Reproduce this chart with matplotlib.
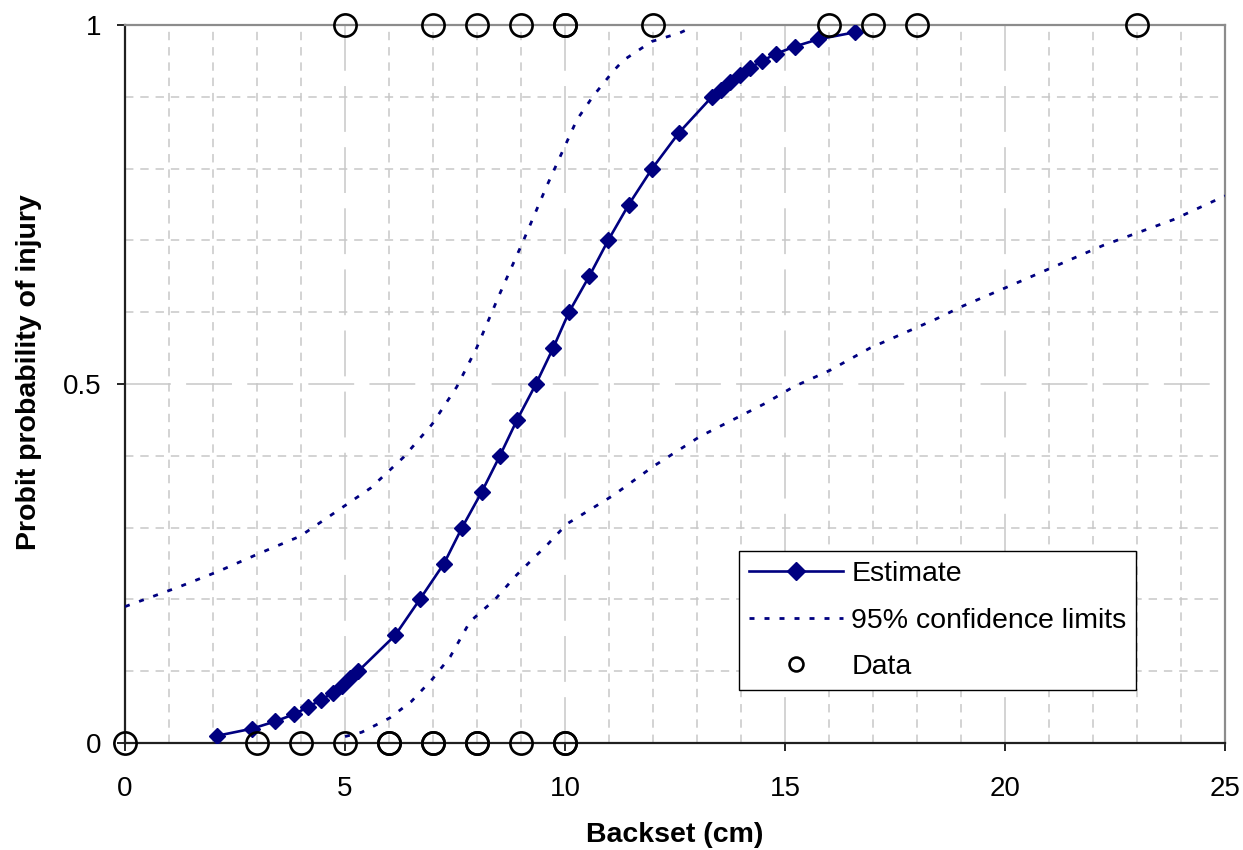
import matplotlib
matplotlib.use("Agg")
import matplotlib.pyplot as plt
from matplotlib.ticker import MultipleLocator, FixedLocator

plt.rcParams['font.family'] = ['Liberation Sans', 'DejaVu Sans']

# ---------------- data ----------------
est_x = [2.09, 2.89, 3.41, 3.84, 4.16, 4.45, 4.73, 4.93, 5.11, 5.30,
         6.14, 6.70, 7.25, 7.66, 8.11, 8.52, 8.91, 9.34, 9.73, 10.09,
         10.55, 10.98, 11.45, 11.98, 12.59, 13.34,
         13.55, 13.74, 13.98, 14.20, 14.48, 14.80, 15.22, 15.75, 16.60]
est_y = [0.01, 0.02, 0.03, 0.04, 0.05, 0.06, 0.07, 0.08, 0.09, 0.10,
         0.15, 0.20, 0.25, 0.30, 0.35, 0.40, 0.45, 0.50, 0.55, 0.60,
         0.65, 0.70, 0.75, 0.80, 0.85, 0.90,
         0.91, 0.92, 0.93, 0.94, 0.95, 0.96, 0.97, 0.98, 0.99]

ci_hi_x = [0.0, 1.21, 2.12, 3.05, 3.98, 4.77, 5.58, 6.33, 6.98, 7.54, 7.99,
           8.52, 9.05, 9.58, 10.27, 10.64, 11.10, 11.33, 11.97, 12.61, 12.75]
ci_hi_y = [0.190, 0.217, 0.239, 0.264, 0.288, 0.321, 0.355, 0.398, 0.444, 0.496, 0.550,
           0.626, 0.699, 0.775, 0.868, 0.901, 0.936, 0.951, 0.977, 0.989, 0.993]

ci_lo_x = [5.00, 5.38, 6.02, 6.51, 7.00, 7.39, 7.84, 8.41, 8.90, 9.36, 9.55, 10.04,
           10.57, 11.10, 12.00, 13.07, 14.55, 15.19, 16.02, 16.93, 18.45, 19.02,
           20.20, 21.10, 22.23, 23.83, 25.00]
ci_lo_y = [0.009, 0.015, 0.035, 0.058, 0.090, 0.120, 0.169, 0.200, 0.234, 0.262, 0.273, 0.305,
           0.325, 0.345, 0.385, 0.427, 0.473, 0.496, 0.519, 0.550, 0.591, 0.608,
           0.639, 0.663, 0.693, 0.729, 0.762]

data_x = [5, 7, 8, 9, 10, 10, 12, 16, 17, 18, 23,
          0, 3, 4, 5, 6, 6, 7, 7, 8, 8, 9, 10, 10]
data_y = [1, 1, 1, 1, 1, 1, 1, 1, 1, 1, 1,
          0, 0, 0, 0, 0, 0, 0, 0, 0, 0, 0, 0, 0]

x_ticks = [0, 5, 10, 15, 20, 25]
x_ticklabels = ['0', '5', '10', '15', '20', '25']
y_ticks = [0, 0.5, 1]
y_ticklabels = ['0', '0.5', '1']

# ---------------- figure ----------------
W, H = 1243, 850
fig = plt.figure(figsize=(W / 100, H / 100), dpi=100)
ax = fig.add_axes([125 / W, 1 - 743 / H, 1100 / W, 718 / H])

navy = '#000080'
ax.plot(est_x, est_y, color=navy, lw=1.9, marker='D', ms=8.5,
        mfc=navy, mec=navy, label='Estimate', zorder=4)
ax.plot(ci_hi_x, ci_hi_y, color=navy, lw=2.0, ls=(0, (1.8, 3.6)),
        label='95% confidence limits', zorder=3)
ax.plot(ci_lo_x, ci_lo_y, color=navy, lw=2.0, ls=(0, (1.8, 3.6)), zorder=3)
ax.plot(data_x, data_y, ls='none', marker='o', ms=16, mfc='none',
        mec='black', mew=1.9, label='Data', clip_on=False, zorder=6)

ax.set_xlim(0, 25)
ax.set_ylim(0, 1)
ax.xaxis.set_major_locator(FixedLocator(x_ticks))
ax.set_xticklabels(x_ticklabels)
ax.yaxis.set_major_locator(FixedLocator(y_ticks))
ax.set_yticklabels(y_ticklabels)
ax.xaxis.set_minor_locator(MultipleLocator(1))
ax.yaxis.set_minor_locator(MultipleLocator(0.1))

ax.grid(which='major', color='#c8c8c8', lw=1.1, ls=(0, (30, 10)))
ax.grid(which='minor', color='#c8c8c8', lw=1.1, ls=(0, (5.5, 4.5)))
ax.set_axisbelow(True)

ax.tick_params(which='minor', length=0)
ax.tick_params(axis='x', which='major', direction='out', length=6, width=1.2,
               pad=18, labelsize=20, color='black')
ax.tick_params(axis='y', which='major', direction='out', length=6, width=1.2,
               pad=11, labelsize=20, color='black')

for s in ['left', 'bottom']:
    ax.spines[s].set_color('#202020')
    ax.spines[s].set_linewidth(1.6)
for s in ['top', 'right']:
    ax.spines[s].set_color('#8c8c8c')
    ax.spines[s].set_linewidth(1.6)

fig.text(675 / W, 1 - 842 / H, 'Backset (cm)', ha='center', va='baseline',
         fontsize=20.5, fontweight='bold')
fig.text(29 / W, 1 - 372 / H, 'Probit probability of injury', ha='center',
         va='center', rotation=90, fontsize=20.5, fontweight='bold')

leg = ax.legend(loc='upper left', bbox_to_anchor=(0.558, 0.267),
                borderaxespad=0, fontsize=20.5, frameon=True, fancybox=False,
                edgecolor='black', framealpha=1, handlelength=3.3,
                handletextpad=0.3, labelspacing=0.72, borderpad=0.35,
                numpoints=1)
leg.get_frame().set_linewidth(1.0)
leg.legend_handles[0].set_markersize(9.5)
leg.legend_handles[2].set_markersize(10)

fig.savefig('out.png', dpi=100)
